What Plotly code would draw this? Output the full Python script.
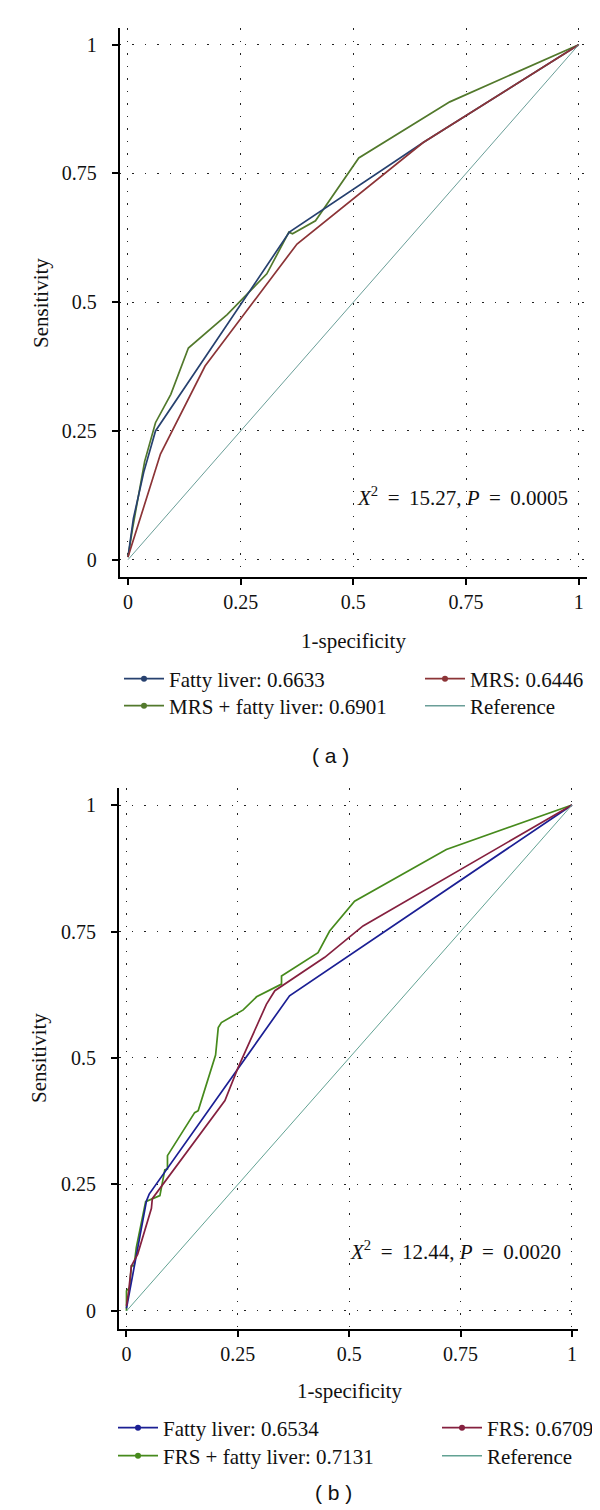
import plotly.graph_objects as go

# ---------------- data ----------------
# Panel (a)
a_fatty_x = [0, 0.012, 0.035, 0.061, 0.358, 0.655, 1]
a_fatty_y = [0.005, 0.08, 0.17, 0.25, 0.636, 0.81, 1]
a_mrs_x = [0, 0.02, 0.072, 0.171, 0.375, 0.655, 1]
a_mrs_y = [0.005, 0.06, 0.205, 0.376, 0.613, 0.81, 1]
a_combo_x = [0, 0.01, 0.037, 0.061, 0.095, 0.134, 0.220, 0.308, 0.357, 0.365, 0.416, 0.512, 0.714, 1]
a_combo_y = [0.005, 0.06, 0.191, 0.266, 0.321, 0.411, 0.476, 0.555, 0.636, 0.633, 0.658, 0.780, 0.889, 1]
a_names = ["Fatty liver: 0.6633", "MRS: 0.6446", "MRS + fatty liver: 0.6901", "Reference"]
a_stat = "<i>X</i><sup>2</sup>\u2009 = \u2009" + "15.27, <i>P</i>\u2009 = \u20090.0005"

# Panel (b)
b_fatty_x = [0, 0.02, 0.045, 0.051, 0.366, 1]
b_fatty_y = [0.005, 0.10, 0.218, 0.231, 0.623, 1]
b_frs_x = [0, 0.005, 0.011, 0.025, 0.056, 0.058, 0.221, 0.25, 0.314, 0.333, 0.445, 0.531, 1]
b_frs_y = [0.01, 0.04, 0.089, 0.112, 0.203, 0.222, 0.416, 0.48, 0.606, 0.633, 0.699, 0.761, 1]
b_combo_x = [0, 0, 0.007, 0.011, 0.017, 0.022, 0.043, 0.075, 0.086, 0.092, 0.092, 0.153, 0.161,
             0.200, 0.206, 0.213, 0.262, 0.292, 0.348, 0.348, 0.430, 0.456, 0.512, 0.718, 1]
b_combo_y = [0, 0.040, 0.046, 0.089, 0.089, 0.125, 0.216, 0.228, 0.279, 0.281, 0.307, 0.392, 0.396,
             0.506, 0.560, 0.570, 0.595, 0.621, 0.646, 0.662, 0.708, 0.751, 0.810, 0.912, 1]
b_names = ["Fatty liver: 0.6534", "FRS: 0.6709", "FRS + fatty liver: 0.7131", "Reference"]
b_stat = "<i>X</i><sup>2</sup>\u2009 = \u2009" + "12.44, <i>P</i>\u2009 = \u20090.0020"

ref_x = [0, 1]
ref_y = [0, 1]

tick_vals = [0, 0.25, 0.5, 0.75, 1]
tick_text = ["0", "0.25", "0.5", "0.75", "1"]

# ---------------- styles ----------------
W, H = 600, 1510
SERIF = "Liberation Serif, Times New Roman, serif"
SANS = "Liberation Sans, Arial, sans-serif"
a_colors = ["#27416f", "#8c3437", "#52792c", "#6a9e98"]
b_colors = ["#1b1f94", "#85203f", "#468a1c", "#62a293"]

fig = go.Figure()


def add_panel(xs, ys, colors, names, xa, ya, legends):
    curves = list(zip(xs, ys))
    order = [2, 0, 1]  # draw order: combo first, then single scores on top
    for i in order:
        x, y = curves[i]
        fig.add_trace(go.Scatter(x=x, y=y, mode="lines", line=dict(color=colors[i], width=1.7),
                                 xaxis=xa, yaxis=ya, showlegend=False, hoverinfo="skip"))
    fig.add_trace(go.Scatter(x=ref_x, y=ref_y, mode="lines", line=dict(color=colors[3], width=1),
                             xaxis=xa, yaxis=ya, showlegend=False, hoverinfo="skip"))
    # legend entries
    for i in range(4):
        mode = "lines+markers" if i < 3 else "lines"
        fig.add_trace(go.Scatter(x=[None], y=[None], mode=mode, name=names[i],
                                 line=dict(color=colors[i], width=1.7 if i < 3 else 1.5),
                                 marker=dict(color=colors[i], size=6),
                                 xaxis=xa, yaxis=ya, legend=legends[i], showlegend=True))


add_panel([a_fatty_x, a_mrs_x, a_combo_x], [a_fatty_y, a_mrs_y, a_combo_y], a_colors, a_names,
          "x", "y", ["legend", "legend2", "legend3", "legend4"])
add_panel([b_fatty_x, b_frs_x, b_combo_x], [b_fatty_y, b_frs_y, b_combo_y], b_colors, b_names,
          "x2", "y2", ["legend5", "legend6", "legend7", "legend8"])


def px(x):
    return x / W


def py(y):
    return 1 - y / H


axis_common = dict(
    showline=True, linecolor="black", linewidth=2, mirror=False,
    ticks="outside", ticklen=6, tickwidth=2, tickcolor="black",
    tickvals=tick_vals, ticktext=tick_text,
    tickfont=dict(family=SERIF, size=20, color="#111"),
    showgrid=True, gridcolor="#222", gridwidth=1.4, griddash="1.5px,11px",
    zeroline=False, fixedrange=True,
)

layout = dict(
    width=W, height=H, margin=dict(l=0, r=0, t=0, b=0),
    paper_bgcolor="white", plot_bgcolor="white",
    xaxis=dict(domain=[px(111.7), px(579)], range=[-0.0184, 1.0184], anchor="y", **axis_common),
    yaxis=dict(domain=[py(569.3), py(20)], range=[-0.0342, 1.0324], anchor="x",
               ticklabelstandoff=11, **axis_common),
    xaxis2=dict(domain=[px(111), px(570)], range=[-0.0168, 1.0135], anchor="y2", **axis_common),
    yaxis2=dict(domain=[py(1321), py(780)], range=[-0.0356, 1.0336], anchor="x2",
                ticklabelstandoff=11, **axis_common),
)

# one legend per entry, placed like the reference's two-column keys
legend_pos = {
    "legend": (111, 671), "legend2": (412, 671), "legend3": (111, 698), "legend4": (412, 698),
    "legend5": (105, 1420), "legend6": (429, 1420), "legend7": (105, 1448), "legend8": (429, 1448),
}
for key, (lx, ly) in legend_pos.items():
    layout[key] = dict(x=px(lx), y=py(ly), xanchor="left", yanchor="middle",
                       bgcolor="rgba(0,0,0,0)", borderwidth=0, itemwidth=40,
                       font=dict(family=SERIF, size=21, color="#111"),
                       itemclick=False, itemdoubleclick=False)

fig.update_layout(**layout)

annotations = [
    dict(text="Sensitivity", x=px(33), y=py(295), textangle=-90),
    dict(text="1-specificity", x=px(345), y=py(633)),
    dict(text="Sensitivity", x=px(31), y=py(1050), textangle=-90),
    dict(text="1-specificity", x=px(341), y=py(1383)),
]
anns = []
for a in annotations:
    anns.append(dict(xref="paper", yref="paper", showarrow=False, xanchor="center", yanchor="middle",
                     font=dict(family=SERIF, size=21, color="#111"), **a))
anns.append(dict(text=a_stat, x=0.742, y=0.122, xref="x", yref="y", showarrow=False,
                 xanchor="center", yanchor="middle", font=dict(family=SERIF, size=21, color="#111")))
anns.append(dict(text=b_stat, x=0.7385, y=0.119, xref="x2", yref="y2", showarrow=False,
                 xanchor="center", yanchor="middle", font=dict(family=SERIF, size=21, color="#111")))
anns.append(dict(text="( a )", x=px(322), y=py(747), xref="paper", yref="paper", showarrow=False,
                 font=dict(family=SANS, size=21, color="#111")))
anns.append(dict(text="( b )", x=px(325), y=py(1498), xref="paper", yref="paper", showarrow=False,
                 font=dict(family=SANS, size=21, color="#111")))
fig.update_layout(annotations=anns)

fig.write_html("out.html")
